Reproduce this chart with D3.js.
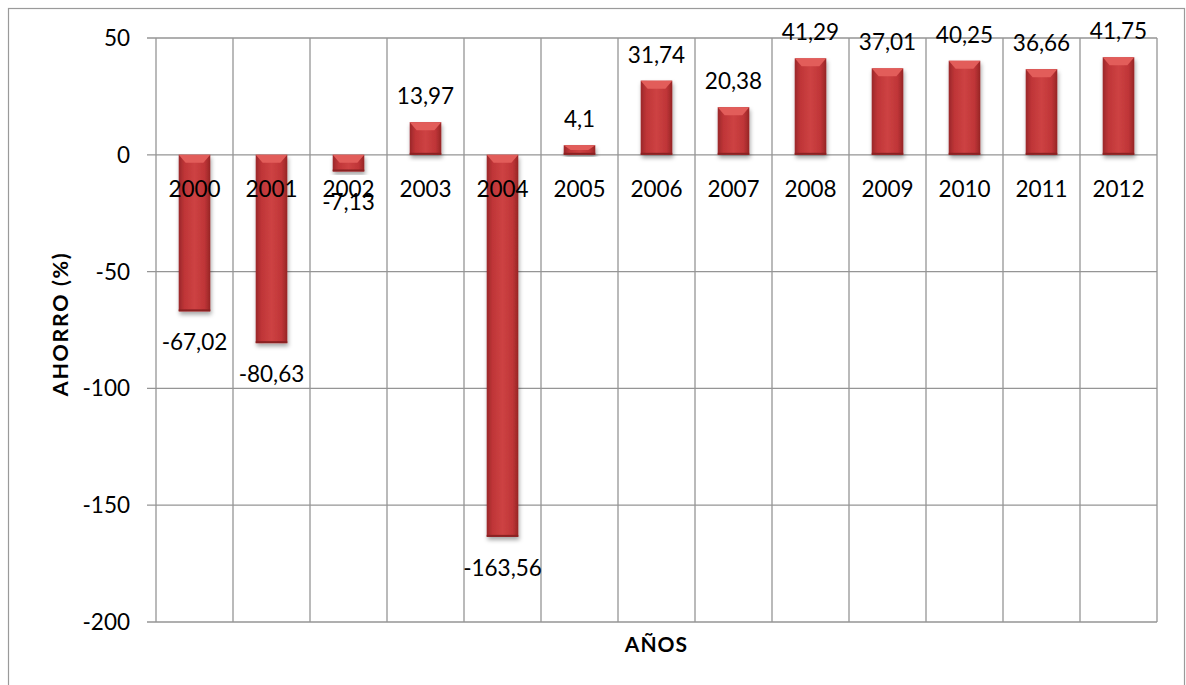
<!DOCTYPE html>
<html>
<head>
<meta charset="utf-8">
<script src="https://cdn.jsdelivr.net/npm/d3@7/dist/d3.min.js"></script>
<style>
  body { margin:0; background:#fff; }
  text { font-family: Lato, "Open Sans", sans-serif; fill:#000; }
</style>
</head>
<body>
<svg id="chart"></svg>
<script>
// ---------------- data ----------------
var years = ["2000","2001","2002","2003","2004","2005","2006","2007","2008","2009","2010","2011","2012"];
var ahorro = [-67.02, -80.63, -7.13, 13.97, -163.56, 4.1, 31.74, 20.38, 41.29, 37.01, 40.25, 36.66, 41.75];
var yTicks = [50, 0, -50, -100, -150, -200];

var data = years.map(function(y, i) { return {year: y, value: ahorro[i]}; });

var screen = { width:1186, height:685 };
var margins = { top:38, bottom:63, left:156, right:29 };
var width = screen.width - margins.left - margins.right;
var height = screen.height - margins.top - margins.bottom;

var svg = d3.select("#chart")
  .attr("width", screen.width)
  .attr("height", screen.height);

// outer frame
svg.append("rect")
  .attr("x", 8.5).attr("y", 8.5)
  .attr("width", 1176).attr("height", 690)
  .attr("fill", "none").attr("stroke", "#9a9a9a").attr("stroke-width", 1.2);

var defs = svg.append("defs");
var grad = defs.append("linearGradient").attr("id", "barGrad")
  .attr("x1", "0%").attr("x2", "100%").attr("y1", "0%").attr("y2", "0%");
grad.append("stop").attr("offset", "0%").attr("stop-color", "#9a2729");
grad.append("stop").attr("offset", "18%").attr("stop-color", "#bf3537");
grad.append("stop").attr("offset", "50%").attr("stop-color", "#cd4243");
grad.append("stop").attr("offset", "82%").attr("stop-color", "#bf3537");
grad.append("stop").attr("offset", "100%").attr("stop-color", "#962526");

var shadow = defs.append("filter").attr("id", "shadow")
  .attr("x", "-30%").attr("y", "-10%").attr("width", "160%").attr("height", "130%");
shadow.append("feDropShadow")
  .attr("dx", 1).attr("dy", 3).attr("stdDeviation", 2)
  .attr("flood-color", "#000").attr("flood-opacity", 0.35);

var xScale = d3.scaleBand()
  .domain(years)
  .range([0, width])
  .paddingInner(0)
  .paddingOuter(0);

var yScale = d3.scaleLinear()
  .domain([-200, 50])
  .range([height, 0]);

var plotLand = svg.append("g")
  .classed("plot", true)
  .attr("transform", "translate(" + margins.left + "," + margins.top + ")");

// horizontal gridlines
plotLand.append("g").selectAll("line")
  .data(yTicks)
  .enter()
  .append("line")
  .attr("x1", -9).attr("x2", width)
  .attr("y1", function(d) { return yScale(d); })
  .attr("y2", function(d) { return yScale(d); })
  .attr("stroke", "#959595").attr("stroke-width", 1.3);

// vertical gridlines at category boundaries
var bounds = years.map(function(y) { return xScale(y); }).concat([width]);
plotLand.append("g").selectAll("line")
  .data(bounds)
  .enter()
  .append("line")
  .attr("x1", function(d) { return d; })
  .attr("x2", function(d) { return d; })
  .attr("y1", 0).attr("y2", height)
  .attr("stroke", "#959595").attr("stroke-width", 1.3);

// y tick labels
plotLand.append("g").selectAll("text")
  .data(yTicks)
  .enter()
  .append("text")
  .attr("x", -26)
  .attr("y", function(d) { return yScale(d) + 8; })
  .attr("text-anchor", "end")
  .style("font-size", "22.5px")
  .text(function(d) { return d; });

// bars
var bw = xScale.bandwidth() * 0.41;
var bars = plotLand.append("g").selectAll("g")
  .data(data)
  .enter()
  .append("g")
  .attr("filter", "url(#shadow)");

bars.append("rect")
  .attr("x", function(d) { return xScale(d.year) + (xScale.bandwidth() - bw) / 2; })
  .attr("y", function(d) { return yScale(Math.max(0, d.value)); })
  .attr("width", bw)
  .attr("height", function(d) { return Math.abs(yScale(d.value) - yScale(0)); })
  .attr("fill", "url(#barGrad)");

// top bevel
bars.append("path")
  .attr("d", function(d) {
    var x0 = xScale(d.year) + (xScale.bandwidth() - bw) / 2;
    var y0 = yScale(Math.max(0, d.value));
    var h = Math.abs(yScale(d.value) - yScale(0));
    var bh = Math.min(8, h / 2);
    return "M" + x0 + "," + y0 + "L" + (x0 + bw) + "," + y0 +
      "L" + (x0 + bw * 0.78) + "," + (y0 + bh) + "L" + (x0 + bw * 0.22) + "," + (y0 + bh) + "Z";
  })
  .attr("fill", "#e25d5a");

// bottom dark edge
bars.append("rect")
  .attr("x", function(d) { return xScale(d.year) + (xScale.bandwidth() - bw) / 2; })
  .attr("y", function(d) { return yScale(Math.min(0, d.value)) - 2; })
  .attr("width", bw)
  .attr("height", 2)
  .attr("fill", "#8a2224");

// category labels at zero line
plotLand.append("g").selectAll("text")
  .data(years)
  .enter()
  .append("text")
  .attr("x", function(d) { return xScale(d) + xScale.bandwidth() / 2; })
  .attr("y", yScale(0) + 42)
  .attr("text-anchor", "middle")
  .style("font-size", "22.5px")
  .text(function(d) { return d; });

// data labels
plotLand.append("g").selectAll("text")
  .data(data)
  .enter()
  .append("text")
  .attr("x", function(d) { return xScale(d.year) + xScale.bandwidth() / 2; })
  .attr("y", function(d) {
    return d.value >= 0 ? yScale(d.value) - 18 : yScale(d.value) + 39;
  })
  .attr("text-anchor", "middle")
  .style("font-size", "22.5px")
  .text(function(d) { return String(d.value).replace(".", ","); });

// axis titles
svg.append("text")
  .attr("x", margins.left + width / 2)
  .attr("y", 652)
  .attr("text-anchor", "middle")
  .style("font-size", "21px")
  .style("font-weight", "bold")
  .style("letter-spacing", "1px")
  .text("AÑOS");

svg.append("text")
  .attr("transform", "translate(68," + 324 + ") rotate(-90)")
  .attr("text-anchor", "middle")
  .style("font-size", "21.5px")
  .style("font-weight", "bold")
  .style("letter-spacing", "1.6px")
  .text("AHORRO (%)");
</script>
</body>
</html>
